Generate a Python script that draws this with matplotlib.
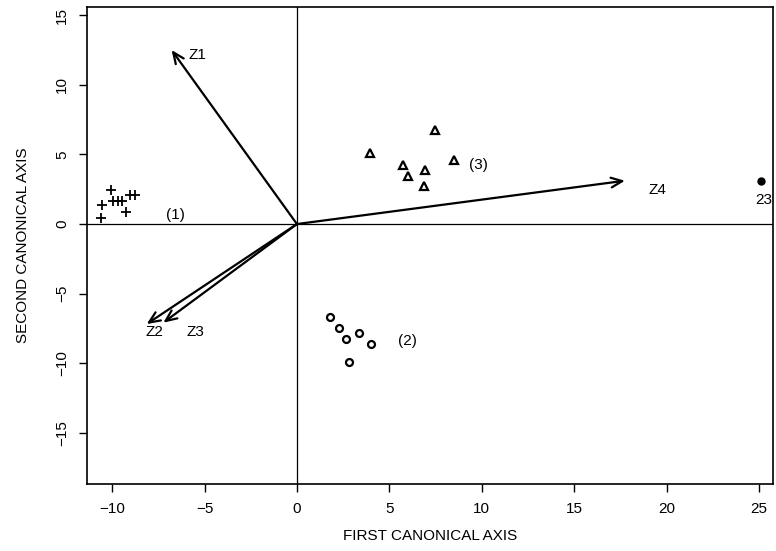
import numpy as np
import matplotlib
matplotlib.use('Agg')
import matplotlib.pyplot as plt

plt.rcParams['font.family'] = ['Liberation Sans', 'DejaVu Sans']

# group (1): plus signs
g1_x = [-10.08, -10.57, -10.62, -9.94, -9.70, -9.49, -9.27, -9.04, -8.77]
g1_y = [2.44, 1.36, 0.41, 1.65, 1.65, 1.65, 0.89, 2.11, 2.11]
# group (2): open circles
g2_x = [1.79, 2.29, 2.65, 3.34, 3.99, 2.83]
g2_y = [-6.70, -7.49, -8.26, -7.82, -8.61, -9.88]
# group (3): triangles
g3_x = [7.47, 3.95, 5.75, 6.93, 8.50, 6.02, 6.87]
g3_y = [6.75, 5.07, 4.24, 3.88, 4.59, 3.45, 2.73]
# observation 23
p23 = (25.1, 3.11)

# variable vectors
vec_names = ['Z1', 'Z2', 'Z3', 'Z4']
vec_x = [-6.78, -8.13, -7.23, 17.75]
vec_y = [12.49, -7.18, -7.08, 3.11]
vec_lab_x = [-5.4, -7.7, -5.5, 19.5]
vec_lab_y = [12.1, -7.75, -7.75, 2.44]

grp_labels = ['(1)', '(2)', '(3)']
grp_lab_x = [-6.6, 6.0, 9.8]
grp_lab_y = [0.65, -8.38, 4.24]

fig = plt.figure(figsize=(7.76, 5.51), dpi=100)
ax = fig.add_axes([0.1121, 0.1216, 0.884, 0.8657])

ax.axhline(0, color='black', lw=0.9)
ax.axvline(0, color='black', lw=0.9)

ax.plot(g1_x, g1_y, '+', color='black', ms=7, mew=1.3)
ax.plot(g2_x, g2_y, 'o', color='black', mfc='none', ms=5, mew=1.6)
ax.plot(g3_x, g3_y, '^', color='black', mfc='none', ms=6, mew=1.6)
ax.plot([p23[0]], [p23[1]], 'o', color='black', ms=5)
ax.text(p23[0] + 0.15, p23[1] - 1.4, '23', ha='center', va='center', fontsize=11)

for name, vx, vy, lx, ly in zip(vec_names, vec_x, vec_y, vec_lab_x, vec_lab_y):
    ax.annotate('', xy=(vx, vy), xytext=(0, 0),
                arrowprops=dict(arrowstyle='->,head_length=0.8,head_width=0.35',
                                color='black', lw=1.6, shrinkA=0, shrinkB=0))
    ax.text(lx, ly, name, ha='center', va='center', fontsize=11)

for t, lx, ly in zip(grp_labels, grp_lab_x, grp_lab_y):
    ax.text(lx, ly, t, ha='center', va='center', fontsize=11)

ax.set_xlim(-11.36, 25.76)
ax.set_ylim(-18.66, 15.58)
ax.set_xticks([-10, -5, 0, 5, 10, 15, 20, 25])
ax.set_yticks([-15, -10, -5, 0, 5, 10, 15])
ax.set_xticklabels(['\u221210', '\u22125', '0', '5', '10', '15', '20', '25'])
ax.set_yticklabels(['\u221215', '\u221210', '\u22125', '0', '5', '10', '15'],
                   rotation=90, va='center')
ax.tick_params(direction='out', length=6, width=1, labelsize=11, pad=7)
for s in ax.spines.values():
    s.set_linewidth(1.2)

ax.set_xlabel('FIRST CANONICAL AXIS', fontsize=11, labelpad=9)
ax.set_ylabel('SECOND CANONICAL AXIS', fontsize=11, labelpad=18)

fig.savefig('out.png', dpi=100)
